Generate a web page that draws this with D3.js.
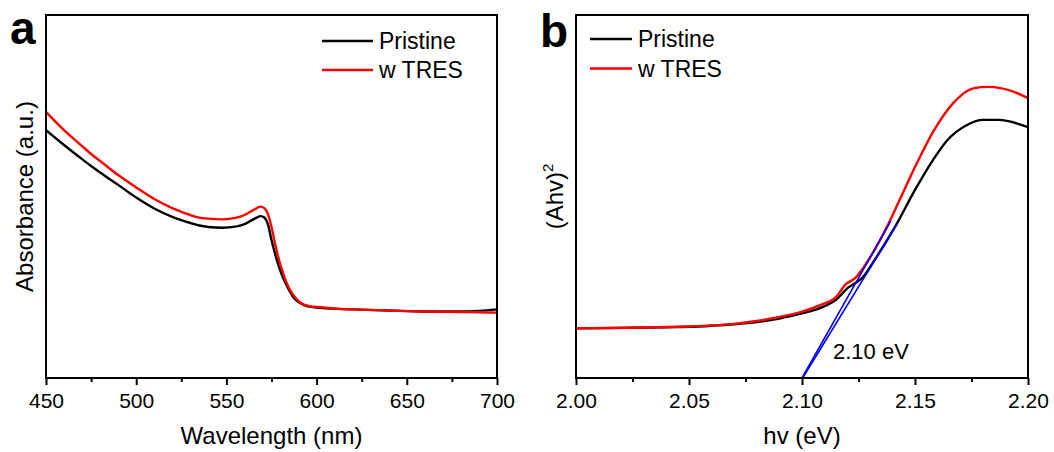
<!DOCTYPE html>
<html>
<head>
<meta charset="utf-8">
<script src="https://cdn.jsdelivr.net/npm/d3@7"></script>
<style>
  body { margin: 0; background: #fff; }
  text { font-family: "Liberation Sans", Arial, sans-serif; fill: #000; }
</style>
</head>
<body>
<div id="root"></div>
<script>
// Panel a: absorption spectra (arbitrary units)
const wavelength = [450, 460, 470, 475, 480, 490, 500, 510, 520, 530, 535, 540, 548, 555, 560, 565, 569, 571, 573, 575,
  577, 579, 581, 583, 585, 587, 590, 593, 597, 600, 610, 620, 640, 660, 680, 690, 700];
const absPristine = [0.683, 0.642, 0.603, 0.584, 0.566, 0.532, 0.497, 0.467, 0.444, 0.427, 0.420, 0.416, 0.414, 0.417, 0.424, 0.437, 0.446, 0.442, 0.424, 0.380,
  0.342, 0.309, 0.281, 0.259, 0.240, 0.223, 0.209, 0.201, 0.196, 0.194, 0.191, 0.189, 0.186, 0.183, 0.183, 0.185, 0.189];
const absTres = [0.733, 0.683, 0.639, 0.617, 0.598, 0.559, 0.525, 0.493, 0.468, 0.449, 0.442, 0.439, 0.437, 0.441, 0.449, 0.463, 0.472, 0.468, 0.452, 0.416,
  0.369, 0.328, 0.295, 0.267, 0.245, 0.229, 0.212, 0.202, 0.197, 0.196, 0.191, 0.189, 0.186, 0.183, 0.182, 0.181, 0.180];

// Panel b: Tauc plot
const hvPristine = [2.00, 2.02, 2.04, 2.05, 2.06, 2.07, 2.08, 2.09, 2.10, 2.105, 2.11, 2.115, 2.118, 2.12, 2.1235, 2.127, 2.1316,
  2.1416, 2.15, 2.158, 2.164, 2.173, 2.18, 2.187, 2.20];
const taucPristine = [0.137, 0.138, 0.140, 0.141, 0.144, 0.148, 0.154, 0.164, 0.178, 0.186, 0.198, 0.215, 0.234, 0.247, 0.261, 0.278, 0.320,
  0.421, 0.518, 0.601, 0.653, 0.697, 0.711, 0.711, 0.691];
const hvTres = [2.00, 2.05, 2.07, 2.08, 2.09, 2.10, 2.108, 2.115, 2.1195, 2.1235, 2.1294, 2.1382, 2.1456, 2.1507, 2.158, 2.167,
  2.1758, 2.1824, 2.1935, 2.20];
const taucTres = [0.137, 0.142, 0.149, 0.157, 0.168, 0.183, 0.201, 0.223, 0.259, 0.275, 0.325, 0.424, 0.523, 0.590, 0.678, 0.758,
  0.798, 0.802, 0.789, 0.771];

// Linear fits to the band edge
const fitTres = [[2.100, 0], [2.1393, 0.433]];
const fitPristine = [[2.1003, 0], [2.1422, 0.426]];

const seriesNames = ['Pristine', 'w TRES'];
const seriesColors = ['#000000', '#ff0000'];
const ticksA = [450, 500, 550, 600, 650, 700];
const ticksB = [2.00, 2.05, 2.10, 2.15, 2.20];

// Layout
const width = 1054;
const height = 452;
const plotTop = 15;
const plotBottom = 378;

const svg = d3.select('#root')
  .append('svg')
  .attr('width', width)
  .attr('height', height);

/**
 * Draw one framed panel with bottom axis, curves and legend
 */
function panel(opts) {
  const x = d3.scaleLinear().domain(opts.xDomain).range([opts.left, opts.right]);
  const y = d3.scaleLinear().domain([0, 1]).range([plotBottom, plotTop]);
  const g = svg.append('g');

  g.append('clipPath')
    .attr('id', opts.id)
    .append('rect')
      .attr('x', opts.left)
      .attr('y', plotTop)
      .attr('width', opts.right - opts.left)
      .attr('height', plotBottom - plotTop);

  const line = d3.line()
    .x(d => x(d[0]))
    .y(d => y(d[1]))
    .curve(d3.curveMonotoneX);

  const plot = g.append('g').attr('clip-path', `url(#${opts.id})`);

  opts.series.forEach((s, i) => {
    plot.append('path')
      .datum(s)
      .attr('d', line)
      .attr('fill', 'none')
      .attr('stroke', seriesColors[i])
      .attr('stroke-width', 2.4)
      .attr('stroke-linejoin', 'round');
  });

  // fit lines sit on top of the curves
  (opts.extra || []).forEach(seg => {
    plot.append('path')
      .datum(seg)
      .attr('d', d3.line().x(d => x(d[0])).y(d => y(d[1])))
      .attr('fill', 'none')
      .attr('stroke', '#0000ff')
      .attr('stroke-width', 1.6);
  });

  // minor ticks
  g.append('g')
    .attr('transform', `translate(0,${plotBottom})`)
    .call(d3.axisBottom(x).tickValues(opts.minor).tickSize(4).tickFormat(''))
    .call(a => a.select('.domain').remove())
    .call(a => a.selectAll('line').attr('stroke-width', 2));

  // major ticks
  g.append('g')
    .attr('transform', `translate(0,${plotBottom})`)
    .call(d3.axisBottom(x).tickValues(opts.ticks).tickSize(7).tickPadding(8).tickFormat(opts.format))
    .call(a => a.select('.domain').remove())
    .call(a => a.selectAll('line').attr('stroke-width', 2))
    .call(a => a.selectAll('text').style('font-size', '21px').attr('fill', '#000'));

  g.append('rect')
    .attr('x', opts.left)
    .attr('y', plotTop)
    .attr('width', opts.right - opts.left)
    .attr('height', plotBottom - plotTop)
    .attr('fill', 'none')
    .attr('stroke', '#000')
    .attr('stroke-width', 2);

  g.append('text')
    .attr('x', (opts.left + opts.right) / 2)
    .attr('y', 444)
    .attr('text-anchor', 'middle')
    .style('font-size', '24px')
    .text(opts.xTitle);

  const yTitle = g.append('text')
    .attr('transform', `translate(${opts.left - 13},${(plotTop + plotBottom) / 2}) rotate(-90)`)
    .attr('text-anchor', 'middle')
    .style('font-size', '24px');
  opts.yTitle(yTitle);

  g.append('text')
    .attr('x', opts.labelX)
    .attr('y', opts.labelY)
    .style('font-size', '46px')
    .style('font-weight', 'bold')
    .text(opts.label);

  // legend
  seriesNames.forEach((name, i) => {
    const ly = opts.legend.y + i * opts.legend.gap;
    g.append('line')
      .attr('x1', opts.legend.x)
      .attr('x2', opts.legend.x + opts.legend.len)
      .attr('y1', ly)
      .attr('y2', ly)
      .attr('stroke', seriesColors[i])
      .attr('stroke-width', 2.4);
    g.append('text')
      .attr('x', opts.legend.x + opts.legend.len + 6)
      .attr('y', ly + 8)
      .style('font-size', '23px')
      .text(name);
  });

  return {x, y, g};
}

panel({
  id: 'clipA',
  left: 46,
  right: 497,
  xDomain: [450, 700],
  ticks: ticksA,
  minor: d3.range(475, 700, 50),
  format: d3.format('d'),
  xTitle: 'Wavelength (nm)',
  yTitle: t => t.text('Absorbance (a.u.)'),
  label: 'a',
  labelX: 10,
  labelY: 44,
  legend: {x: 322, y: 41, gap: 29, len: 51},
  series: [
    wavelength.map((w, i) => [w, absPristine[i]]),
    wavelength.map((w, i) => [w, absTres[i]])
  ]
});

const b = panel({
  id: 'clipB',
  left: 576,
  right: 1028,
  xDomain: [2.0, 2.2],
  ticks: ticksB,
  minor: [2.025, 2.075, 2.125, 2.175],
  format: d3.format('.2f'),
  xTitle: 'hv (eV)',
  yTitle: t => {
    t.append('tspan').text('(Ahv)');
    t.append('tspan').attr('dy', -10).style('font-size', '15px').text('2');
  },
  label: 'b',
  labelX: 540,
  labelY: 47,
  legend: {x: 590, y: 39, gap: 29.5, len: 42},
  series: [
    hvPristine.map((h, i) => [h, taucPristine[i]]),
    hvTres.map((h, i) => [h, taucTres[i]])
  ],
  extra: [fitTres, fitPristine]
});

b.g.append('text')
  .attr('x', 833)
  .attr('y', 359)
  .style('font-size', '22px')
  .text('2.10 eV');
</script>
</body>
</html>
